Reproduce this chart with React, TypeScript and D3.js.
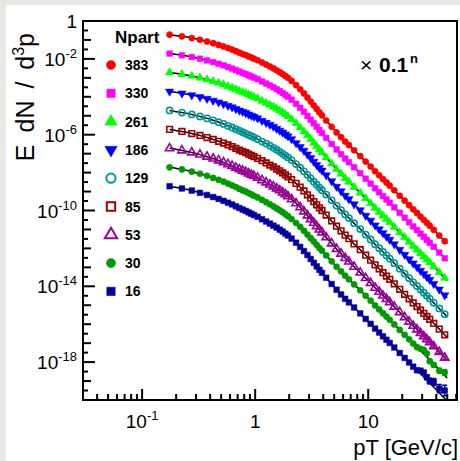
import React, { useEffect, useRef } from "react";
import * as d3 from "d3";

// pT bin centres [GeV/c]
const pT = [
  0.175, 0.225, 0.275, 0.325, 0.375, 0.425, 0.475, 0.525, 0.575, 0.625, 0.675, 0.725, 0.775, 0.825, 0.875, 0.925, 0.975,
  1.05, 1.15, 1.25, 1.35, 1.45, 1.55, 1.65, 1.75, 1.85, 1.95,
  2.1, 2.3, 2.5, 2.7, 2.9, 3.1, 3.3, 3.5, 3.7, 3.9,
  4.25, 4.75, 5.25, 5.75, 6.25, 6.75, 7.5, 8.5, 9.5,
  10.5, 11.5, 12.5, 13.5, 14.5, 15.5, 17, 19, 21, 23, 25, 27, 29, 31, 33, 35, 38, 42.5, 47.5,
];

// log10(E dN/d3p), already multiplied by 0.1^n
const y383 = [-0.72,-0.81,-0.90,-0.99,-1.08,-1.17,-1.26,-1.34,-1.43,-1.51,-1.59,-1.67,-1.74,-1.80,-1.87,-1.93,-1.99,-2.07,-2.19,-2.30,-2.40,-2.50,-2.60,-2.70,-2.80,-2.90,-3.00,-3.16,-3.38,-3.60,-3.82,-4.04,-4.25,-4.45,-4.64,-4.82,-4.98,-5.25,-5.58,-5.88,-6.13,-6.36,-6.55,-6.82,-7.13,-7.42,-7.68,-7.93,-8.14,-8.34,-8.52,-8.69,-8.93,-9.22,-9.48,-9.72,-9.94,-10.13,-10.32,-10.49,-10.65,-10.80,-11.02,-11.32,-11.62];
const y330 = [-1.72,-1.81,-1.90,-1.99,-2.08,-2.17,-2.26,-2.34,-2.43,-2.51,-2.59,-2.67,-2.74,-2.80,-2.87,-2.93,-2.99,-3.07,-3.19,-3.30,-3.40,-3.50,-3.60,-3.70,-3.80,-3.90,-4.00,-4.15,-4.37,-4.58,-4.79,-5.01,-5.21,-5.40,-5.58,-5.75,-5.91,-6.17,-6.49,-6.78,-7.03,-7.26,-7.45,-7.72,-8.03,-8.32,-8.58,-8.83,-9.04,-9.24,-9.42,-9.59,-9.83,-10.12,-10.38,-10.62,-10.84,-11.03,-11.22,-11.39,-11.55,-11.70,-11.92,-12.22,-12.52];
const y261 = [-2.72,-2.81,-2.90,-3.00,-3.09,-3.18,-3.27,-3.35,-3.45,-3.53,-3.61,-3.69,-3.76,-3.82,-3.89,-3.95,-4.01,-4.09,-4.22,-4.33,-4.43,-4.53,-4.63,-4.73,-4.83,-4.93,-5.03,-5.19,-5.40,-5.62,-5.83,-6.04,-6.24,-6.43,-6.62,-6.79,-6.94,-7.21,-7.53,-7.82,-8.07,-8.30,-8.49,-8.76,-9.07,-9.36,-9.62,-9.87,-10.08,-10.28,-10.46,-10.63,-10.87,-11.16,-11.42,-11.66,-11.88,-12.07,-12.26,-12.43,-12.59,-12.74,-12.96,-13.26,-13.56];
const y186 = [-3.72,-3.82,-3.91,-4.01,-4.10,-4.20,-4.29,-4.38,-4.47,-4.55,-4.64,-4.72,-4.79,-4.85,-4.93,-4.99,-5.05,-5.13,-5.26,-5.37,-5.47,-5.57,-5.68,-5.78,-5.88,-5.98,-6.08,-6.23,-6.44,-6.64,-6.84,-7.04,-7.23,-7.42,-7.59,-7.75,-7.89,-8.14,-8.45,-8.74,-8.98,-9.21,-9.40,-9.67,-9.98,-10.27,-10.53,-10.78,-10.99,-11.19,-11.37,-11.54,-11.78,-12.07,-12.33,-12.57,-12.79,-12.98,-13.17,-13.34,-13.50,-13.65,-13.87,-14.17,-14.47];
const y129 = [-4.72,-4.83,-4.93,-5.04,-5.14,-5.24,-5.34,-5.43,-5.53,-5.62,-5.71,-5.79,-5.87,-5.94,-6.01,-6.08,-6.14,-6.23,-6.36,-6.47,-6.58,-6.69,-6.79,-6.89,-7.00,-7.10,-7.20,-7.34,-7.55,-7.74,-7.93,-8.12,-8.30,-8.48,-8.64,-8.79,-8.93,-9.16,-9.46,-9.74,-9.98,-10.21,-10.40,-10.67,-10.98,-11.27,-11.53,-11.78,-11.99,-12.19,-12.37,-12.54,-12.78,-13.07,-13.33,-13.57,-13.79,-13.98,-14.17,-14.34,-14.50,-14.65,-14.87,-15.17,-15.47];
const y85 = [-5.72,-5.83,-5.94,-6.04,-6.15,-6.25,-6.35,-6.44,-6.54,-6.63,-6.72,-6.81,-6.88,-6.95,-7.03,-7.09,-7.16,-7.25,-7.37,-7.49,-7.60,-7.70,-7.81,-7.91,-8.02,-8.12,-8.22,-8.37,-8.57,-8.77,-8.97,-9.17,-9.35,-9.53,-9.70,-9.86,-10.00,-10.24,-10.55,-10.83,-11.07,-11.30,-11.49,-11.76,-12.07,-12.36,-12.62,-12.87,-13.08,-13.28,-13.46,-13.63,-13.87,-14.16,-14.42,-14.66,-14.88,-15.07,-15.26,-15.43,-15.59,-15.74,-15.96,-16.26,-16.56];
const y53 = [-6.72,-6.83,-6.94,-7.05,-7.16,-7.26,-7.36,-7.46,-7.56,-7.65,-7.74,-7.83,-7.90,-7.97,-8.05,-8.12,-8.18,-8.27,-8.40,-8.52,-8.63,-8.73,-8.84,-8.94,-9.05,-9.15,-9.25,-9.41,-9.62,-9.83,-10.05,-10.26,-10.46,-10.65,-10.83,-11.01,-11.16,-11.42,-11.74,-12.03,-12.28,-12.51,-12.70,-12.97,-13.28,-13.57,-13.83,-14.08,-14.29,-14.49,-14.67,-14.84,-15.08,-15.37,-15.63,-15.87,-16.09,-16.28,-16.47,-16.64,-16.80,-16.95,-17.17,-17.47,-17.77];
const y30 = [-7.72,-7.83,-7.95,-8.06,-8.17,-8.28,-8.38,-8.48,-8.58,-8.67,-8.76,-8.86,-8.94,-9.00,-9.08,-9.15,-9.22,-9.31,-9.44,-9.56,-9.67,-9.78,-9.89,-9.99,-10.09,-10.20,-10.30,-10.45,-10.66,-10.86,-11.07,-11.27,-11.46,-11.64,-11.81,-11.98,-12.12,-12.37,-12.68,-12.97,-13.21,-13.44,-13.63,-13.90,-14.21,-14.50,-14.76,-15.01,-15.22,-15.42,-15.60,-15.77,-16.01,-16.30,-16.56,-16.80,-17.02,-17.21,-17.30,-17.35,-17.55,-17.95,-18.15,-18.45,-18.55];
const y16 = [-8.72,-8.84,-8.95,-9.07,-9.18,-9.29,-9.39,-9.49,-9.59,-9.68,-9.78,-9.87,-9.95,-10.02,-10.10,-10.17,-10.24,-10.33,-10.46,-10.58,-10.69,-10.80,-10.90,-11.01,-11.11,-11.22,-11.32,-11.48,-11.70,-11.92,-12.14,-12.35,-12.56,-12.76,-12.95,-13.13,-13.29,-13.55,-13.88,-14.18,-14.43,-14.66,-14.85,-15.12,-15.43,-15.72,-15.98,-16.23,-16.44,-16.64,-16.82,-16.99,-17.23,-17.52,-17.78,-18.02,-18.24,-18.43,-18.45,-18.55,-18.80,-19.00,-19.05,-19.40,-19.50];

// log10 value of each fit curve at pT = 50
const fitEnd = [-11.76, -12.66, -13.70, -14.61, -15.61, -16.70, -17.91, -18.84, -20.06];

// error bars (in decades) on the last seven points of the three most peripheral classes
const err53 = [0.02, 0.03, 0.03, 0.04, 0.05, 0.06, 0.08];
const err30 = [0.05, 0.06, 0.07, 0.08, 0.1, 0.12, 0.15];
const err16 = [0.08, 0.1, 0.12, 0.15, 0.18, 0.22, 0.28];

const npart = ["383", "330", "261", "186", "129", "85", "53", "30", "16"];
const colors = ["#ff0000", "#ff00ff", "#00ff00", "#0000ff", "#009999", "#990000", "#990099", "#009900", "#000099"];
const shapes = ["circle", "square", "up", "down", "ocircle", "osquare", "oup", "circle", "square"];
const series = [y383, y330, y261, y186, y129, y85, y53, y30, y16];
const errs = [null, null, null, null, null, null, err53, err30, err16];

const FONT = "Liberation Sans, Arial, Helvetica, sans-serif";

const symbolFor = (shape, big) => {
  const k = big ? 2.2 : 1;
  if (shape.endsWith("circle")) return d3.symbol().type(d3.symbolCircle).size(30 * k)();
  if (shape.endsWith("square")) return d3.symbol().type(d3.symbolSquare).size(32 * k)();
  return d3.symbol().type(d3.symbolTriangle).size(30 * k)();
};

const App = () => {
  const ref = useRef(null);

  useEffect(() => {
    const svg = d3.select(ref.current);
    svg.selectAll("*").remove();

    const x = d3.scaleLog().domain([0.03, 61]).range([83, 457]);
    const y = d3.scaleLog().domain([1e-20, 1]).range([400, 21]);
    const yv = v => y(Math.pow(10, v));

    // page border
    svg.append("rect").attr("width", 460).attr("height", 461).attr("fill", "#e8e8e3");
    svg.append("rect").attr("x", 6).attr("y", 5).attr("width", 454).attr("height", 456).attr("fill", "#fff");

    svg.append("clipPath").attr("id", "plot")
      .append("rect").attr("x", 83).attr("y", 21).attr("width", 374).attr("height", 379);

    const plot = svg.append("g").attr("clip-path", "url(#plot)");

    // fit curves
    const line = d3.line().x(d => x(d[0])).y(d => yv(d[1])).curve(d3.curveMonotoneX);
    series.forEach((vals, s) => {
      const pts = vals.slice(0, 58).map((v, i) => [pT[i], v]);
      pts.push([50, fitEnd[s]]);
      plot.append("path").attr("d", line(pts)).attr("fill", "none")
        .attr("stroke", "#000").attr("stroke-width", 1.5);
    });

    // error bars
    series.forEach((vals, s) => {
      const e = errs[s];
      if (!e) return;
      e.forEach((er, j) => {
        const i = vals.length - e.length + j;
        const cx = x(pT[i]);
        const g = plot.append("g").attr("stroke", colors[s]).attr("stroke-width", 1.5);
        g.append("line").attr("x1", cx).attr("x2", cx).attr("y1", yv(vals[i] - er)).attr("y2", yv(vals[i] + er));
        g.append("line").attr("x1", cx - 2.5).attr("x2", cx + 2.5).attr("y1", yv(vals[i] - er)).attr("y2", yv(vals[i] - er));
        g.append("line").attr("x1", cx - 2.5).attr("x2", cx + 2.5).attr("y1", yv(vals[i] + er)).attr("y2", yv(vals[i] + er));
      });
    });

    // markers
    series.forEach((vals, s) => {
      const shape = shapes[s];
      const open = shape.startsWith("o");
      const path = symbolFor(shape, false);
      plot.append("g").selectAll("path").data(vals).join("path")
        .attr("d", path)
        .attr("transform", (v, i) => `translate(${x(pT[i])},${yv(v)})${shape === "down" ? " rotate(180)" : ""}`)
        .attr("fill", open ? "none" : colors[s])
        .attr("stroke", colors[s])
        .attr("stroke-width", open ? 1.6 : 0.5);
    });

    // frame
    svg.append("rect").attr("x", 83).attr("y", 21).attr("width", 374).attr("height", 379)
      .attr("fill", "none").attr("stroke", "#000").attr("stroke-width", 2);

    // x ticks
    const ax = svg.append("g").attr("stroke", "#000").attr("stroke-width", 2);
    for (let d = -2; d <= 1; d++) {
      for (let m = 1; m <= 9; m++) {
        const v = m * Math.pow(10, d);
        if (v < 0.03 || v > 61) continue;
        const len = m === 1 ? 11 : 6;
        ax.append("line").attr("x1", x(v)).attr("x2", x(v)).attr("y1", 400).attr("y2", 400 - len);
      }
    }
    // y ticks
    const labeled = [0, -2, -6, -10, -14, -18];
    for (let e = -20; e <= 0; e++) {
      const len = labeled.includes(e) ? 12 : 8;
      ax.append("line").attr("x1", 83).attr("x2", 83 + len).attr("y1", yv(e)).attr("y2", yv(e));
      if (e > -20) {
        ax.append("line").attr("x1", 83).attr("x2", 88).attr("y1", yv(e - 0.5)).attr("y2", yv(e - 0.5));
      }
    }

    const txt = svg.append("g").attr("font-family", FONT).attr("fill", "#000");

    // y labels
    labeled.forEach(e => {
      const t = txt.append("text").attr("x", 77).attr("y", yv(e) + 7)
        .attr("text-anchor", "end").attr("font-size", 19);
      if (e === 0) { t.text("1"); return; }
      t.append("tspan").text("10");
      t.append("tspan").attr("font-size", 13).attr("dy", -8).text(String(e));
    });

    // x labels
    [[0.1, "-1"], [1, null], [10, null]].forEach(([v, sup]) => {
      const t = txt.append("text").attr("x", x(v)).attr("y", 428)
        .attr("text-anchor", "middle").attr("font-size", 19);
      if (sup) {
        t.append("tspan").text("10");
        t.append("tspan").attr("font-size", 13).attr("dy", -8).text(sup);
      } else t.text(String(v));
    });

    // axis titles
    txt.append("text").attr("x", 458).attr("y", 455).attr("text-anchor", "end")
      .attr("font-size", 22).text("pT [GeV/c]");
    const yt = txt.append("text").attr("transform", "translate(34,33) rotate(-90)")
      .attr("text-anchor", "end").attr("font-size", 25).attr("word-spacing", 5);
    yt.append("tspan").text("E dN / d");
    yt.append("tspan").attr("font-size", 16).attr("dy", -10).text("3");
    yt.append("tspan").attr("dy", 10).text("p");

    // scale note
    txt.append("text").attr("x", 360).attr("y", 72).attr("font-size", 21).text("\u00d7");
    txt.append("text").attr("x", 379).attr("y", 72).attr("font-size", 21).attr("font-weight", "bold").text("0.1");
    txt.append("text").attr("x", 410).attr("y", 63).attr("font-size", 13).attr("font-weight", "bold").text("n");

    // legend
    txt.append("text").attr("x", 115).attr("y", 43).attr("font-size", 17).attr("font-weight", "bold").text("Npart");
    npart.forEach((n, s) => {
      const cy = 65 + 28.3 * s;
      const shape = shapes[s];
      const open = shape.startsWith("o");
      svg.append("path").attr("d", symbolFor(shape, true))
        .attr("transform", `translate(111,${cy})${shape === "down" ? " rotate(180)" : ""}`)
        .attr("fill", open ? "none" : colors[s]).attr("stroke", colors[s])
        .attr("stroke-width", open ? 2 : 0.5);
      txt.append("text").attr("x", 125).attr("y", cy + 5).attr("font-size", 14)
        .attr("font-weight", "bold").text(n);
    });
  }, []);

  return (
    <svg ref={ref} width={460} height={461} style={{ position: "absolute", left: 0, top: 0 }} />
  );
};

export default App;
